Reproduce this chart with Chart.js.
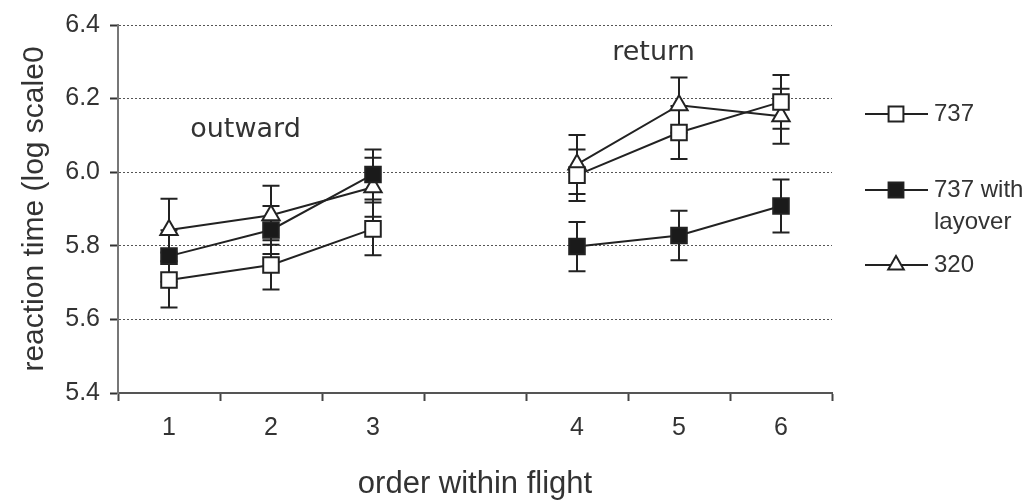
<!DOCTYPE html>
<html>
<head>
<meta charset="utf-8">
<script src="https://cdn.jsdelivr.net/npm/chart.js@4/dist/chart.umd.min.js"></script>
<style>
html,body{margin:0;padding:0;background:#fff;}
canvas{display:block;}
</style>
</head>
<body>
<canvas id="c" width="1030" height="502"></canvas>
<script>
// ---- data ----
const categories = ['1', '2', '3', '', '4', '5', '6'];
const yTickValues = [5.4, 5.6, 5.8, 6.0, 6.2, 6.4];

const rt737 = [5.707, 5.748, 5.846, null, 5.992, 6.108, 6.191];
const err737 = [0.075, 0.067, 0.072, null, 0.070, 0.072, 0.073];

const rt737Layover = [5.772, 5.843, 5.994, null, 5.798, 5.828, 5.908];
const err737Layover = [0.070, 0.065, 0.068, null, 0.067, 0.067, 0.072];

const rt320 = [5.843, 5.883, 5.959, null, 6.021, 6.182, 6.152];
const err320 = [0.085, 0.080, 0.080, null, 0.080, 0.075, 0.075];

const seriesNames = ['737', '737 with\nlayover', '320'];
const annotationTexts = ['outward', 'return'];
const annotationAt = [[0.75, 6.114], [4.75, 6.325]]; // data coordinates (category index, value)

// ---- styles ----
const INK = '#222';
const TXT = '#333';
const SANS = '"Liberation Sans", Arial, sans-serif';

function mkDataset(label, data, errs, style, fill) {
  return {
    label, data, errs,
    borderColor: INK, borderWidth: 2, tension: 0, spanGaps: false,
    pointStyle: style,
    pointRadius: style === 'triangle' ? 10 : 11,
    pointHoverRadius: style === 'triangle' ? 10 : 11,
    pointBackgroundColor: fill, pointBorderColor: INK, pointBorderWidth: 2,
    fill: false
  };
}

const errorBars = {
  id: 'errorBars',
  beforeDatasetsDraw(chart) {
    const {ctx, scales: {y}} = chart;
    ctx.save();
    ctx.strokeStyle = INK; ctx.lineWidth = 2;
    chart.data.datasets.forEach((ds, i) => {
      const meta = chart.getDatasetMeta(i);
      meta.data.forEach((pt, j) => {
        const v = ds.data[j], e = ds.errs[j];
        if (v === null || e === null) return;
        const x = pt.x, y1 = y.getPixelForValue(v + e), y2 = y.getPixelForValue(v - e);
        ctx.beginPath();
        ctx.moveTo(x, y1); ctx.lineTo(x, y2);
        ctx.moveTo(x - 8.5, y1); ctx.lineTo(x + 8.5, y1);
        ctx.moveTo(x - 8.5, y2); ctx.lineTo(x + 8.5, y2);
        ctx.stroke();
      });
    });
    ctx.restore();
  }
};

const labelsAndLegend = {
  id: 'labelsAndLegend',
  afterDraw(chart) {
    const {ctx, scales: {x, y}} = chart;
    ctx.save();
    // in-plot annotations
    ctx.fillStyle = TXT;
    ctx.font = '27px "DejaVu Sans", Verdana, sans-serif';
    ctx.textAlign = 'center'; ctx.textBaseline = 'middle';
    annotationTexts.forEach((t, i) => {
      ctx.fillText(t, x.getPixelForValue(annotationAt[i][0]), y.getPixelForValue(annotationAt[i][1]));
    });
    // legend
    const lx0 = chart.chartArea.right + 33, lx1 = lx0 + 63, mx = lx0 + 31, tx = lx1 + 6;
    const rows = [114, 190, 265];
    ctx.font = '24px ' + SANS;
    ctx.textAlign = 'left';
    chart.data.datasets.forEach((ds, i) => {
      const ly = rows[i];
      ctx.strokeStyle = INK; ctx.lineWidth = 2;
      ctx.beginPath(); ctx.moveTo(lx0, ly); ctx.lineTo(lx1, ly); ctx.stroke();
      ctx.fillStyle = ds.pointBackgroundColor;
      Chart.helpers.drawPoint(ctx, {pointStyle: ds.pointStyle, radius: ds.pointStyle === 'triangle' ? 9 : 10.5, borderWidth: 2, rotation: 0}, mx, ly);
      ctx.fillStyle = TXT;
      const lines = ds.label.split('\n');
      lines.forEach((ln, k) => ctx.fillText(ln, tx, ly + k * 32));
    });
    ctx.restore();
  }
};

new Chart(document.getElementById('c'), {
  type: 'line',
  data: {
    labels: categories,
    datasets: [
      mkDataset(seriesNames[0], rt737, err737, 'rect', '#fff'),
      mkDataset(seriesNames[1], rt737Layover, err737Layover, 'rect', '#1a1a1a'),
      mkDataset(seriesNames[2], rt320, err320, 'triangle', '#fff')
    ]
  },
  options: {
    responsive: false,
    devicePixelRatio: 1,
    animation: false,
    layout: {padding: {top: 20, right: 198, bottom: 0, left: 0}},
    plugins: {legend: {display: false}, tooltip: {enabled: false}},
    scales: {
      x: {
        type: 'category',
        offset: true,
        grid: {offset: true, drawOnChartArea: false, drawTicks: true, tickLength: 8, tickColor: '#444', tickWidth: 2},
        border: {color: '#555', width: 2},
        ticks: {color: TXT, font: {family: SANS, size: 25}, padding: 12, autoSkip: false, maxRotation: 0},
        title: {display: true, text: 'order within flight', color: TXT, font: {family: SANS, size: 31, lineHeight: 1.1}, padding: {top: 0, bottom: 0}},
        afterFit(s) { s.height = 109; }
      },
      y: {
        min: 5.4, max: 6.4,
        afterBuildTicks(s) { s.ticks = yTickValues.map(v => ({value: v})); },
        grid: {color: '#555', lineWidth: 1, tickLength: 8, tickColor: '#333', tickWidth: 2, tickBorderDash: []},
        border: {color: '#777', width: 2, dash: [2, 2]},
        ticks: {color: TXT, font: {family: SANS, size: 25}, padding: 10, callback: v => Number(v).toFixed(1)},
        title: {display: true, text: 'reaction time (log scale0', color: TXT, font: {family: SANS, size: 30, lineHeight: 1.1}, padding: {top: 18, bottom: 0}},
        afterFit(s) { s.width = 118; }
      }
    }
  },
  plugins: [errorBars, labelsAndLegend]
});
</script>
</body>
</html>
